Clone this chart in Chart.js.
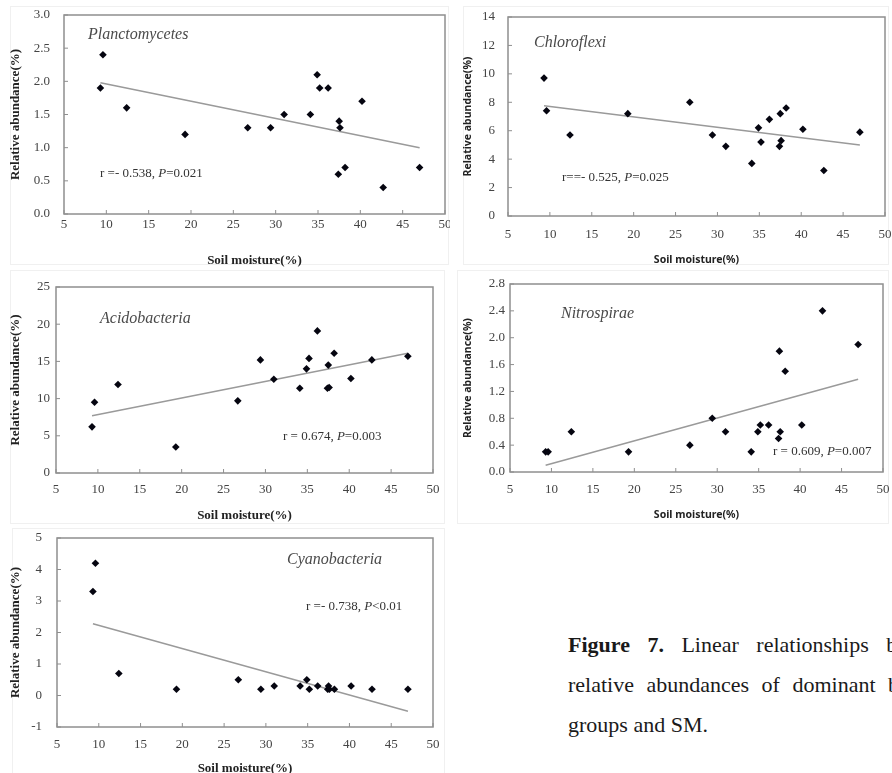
<!DOCTYPE html>
<html>
<head>
<meta charset="utf-8">
<script src="https://cdn.jsdelivr.net/npm/chart.js@4.4.0/dist/chart.umd.min.js"></script>
<style>
  body { margin: 0; width: 892px; height: 773px; overflow: hidden; background: #fff; position: relative; font-family: "Liberation Serif", serif; }
  .frame { position: absolute; border: 1px solid #f0f0f0; }
  canvas { position: absolute; }
  .cap { position: absolute; left: 568px; font-size: 22px; white-space: nowrap; color: #1a1a1a; }
</style>
</head>
<body>
<div class="frame" style="left:10px;top:6px;width:437px;height:257px"></div>
<div class="frame" style="left:463px;top:6px;width:424px;height:257px"></div>
<div class="frame" style="left:10px;top:270px;width:433px;height:252px"></div>
<div class="frame" style="left:457px;top:270px;width:430px;height:252px"></div>
<div class="frame" style="left:12px;top:528px;width:431px;height:250px"></div>

<canvas id="p1" width="450" height="268" style="left:0;top:0"></canvas>
<canvas id="p2" width="437" height="268" style="left:455px;top:0"></canvas>
<canvas id="p3" width="450" height="255" style="left:0;top:268px"></canvas>
<canvas id="p4" width="437" height="255" style="left:455px;top:268px"></canvas>
<canvas id="p5" width="450" height="253" style="left:0;top:523px"></canvas>

<div class="cap" style="top:632px;word-spacing:12px"><b>Figure 7.</b> Linear relationships between the</div>
<div class="cap" style="top:672px;word-spacing:7px">relative abundances of dominant bacterial</div>
<div class="cap" style="top:712px">groups and SM.</div>

<script>
// soil moisture (%) of the 18 sites, shared by all panels
const moisture = [9.3, 9.6, 12.4, 19.3, 26.7, 29.4, 31.0, 34.1, 34.9, 35.2, 36.2, 37.4, 37.5, 37.6, 38.2, 40.2, 42.7, 47.0];

// relative abundance (%) per group
const planctomycetes = [1.9, 2.4, 1.6, 1.2, 1.3, 1.3, 1.5, 1.5, 2.1, 1.9, 1.9, 0.6, 1.4, 1.3, 0.7, 1.7, 0.4, 0.7];
const chloroflexi = [9.7, 7.4, 5.7, 7.2, 8.0, 5.7, 4.9, 3.7, 6.2, 5.2, 6.8, 4.9, 7.2, 5.3, 7.6, 6.1, 3.2, 5.9];
const acidobacteria = [6.2, 9.5, 11.9, 3.5, 9.7, 15.2, 12.6, 11.4, 14.0, 15.4, 19.1, 11.4, 14.5, 11.5, 16.1, 12.7, 15.2, 15.7];
const nitrospirae = [0.3, 0.3, 0.6, 0.3, 0.4, 0.8, 0.6, 0.3, 0.6, 0.7, 0.7, 0.5, 1.8, 0.6, 1.5, 0.7, 2.4, 1.9];
const cyanobacteria = [3.3, 4.2, 0.7, 0.2, 0.5, 0.2, 0.3, 0.3, 0.5, 0.2, 0.3, 0.2, 0.3, 0.2, 0.2, 0.3, 0.2, 0.2];

// fitted lines (end points)
const trendX = [9.3, 47.0];
const planctomycetesFit = [1.98, 1.0];
const chloroflexiFit = [7.75, 5.0];
const acidobacteriaFit = [7.7, 16.1];
const nitrospiraeFit = [0.1, 1.38];
const cyanobacteriaFit = [2.28, -0.5];

// axis ticks
const xTicks = { min: 5, max: 50, step: 5 };

const serif = '"Liberation Serif", "Times New Roman", serif';
const sans = '"Noto Sans", "Open Sans", sans-serif';

// frame, inward ticks, group name and r / P note
const panelDecor = {
  id: 'panelDecor',
  afterDraw(chart) {
    const o = chart.options.plugins.panelDecor;
    const ctx = chart.ctx;
    const a = chart.chartArea;
    const xs = chart.scales.x, ys = chart.scales.y;
    ctx.save();
    ctx.strokeStyle = '#8f8f8f';
    ctx.lineWidth = 1.5;
    ctx.strokeRect(a.left, a.top, a.right - a.left, a.bottom - a.top);
    ctx.lineWidth = 1;
    ctx.beginPath();
    xs.ticks.forEach(t => {
      const px = xs.getPixelForValue(t.value);
      ctx.moveTo(px, a.bottom);
      ctx.lineTo(px, a.bottom - 4);
    });
    ys.ticks.forEach(t => {
      const py = ys.getPixelForValue(t.value);
      ctx.moveTo(a.left, py);
      ctx.lineTo(a.left + 4, py);
    });
    ctx.stroke();

    ctx.textBaseline = 'middle';
    ctx.fillStyle = '#4a4a4a';
    ctx.font = 'italic 16px ' + serif;
    ctx.fillText(o.name, o.nameX, o.nameY);

    ctx.fillStyle = '#333';
    let x = o.statX;
    o.stat.forEach((seg, i) => {
      ctx.font = (i === 1 ? 'italic ' : '') + '13px ' + serif;
      ctx.fillText(seg, x, o.statY);
      x += ctx.measureText(seg).width;
    });
    ctx.restore();
  }
};

function makePanel(id, p) {
  const canvas = document.getElementById(id);
  const W = canvas.width, H = canvas.height;
  const titleFont = p.sansTitles
    ? { family: sans, size: 10.5, weight: 'bold' }
    : { family: serif, size: 13, weight: 'bold' };

  new Chart(canvas, {
    type: 'scatter',
    data: {
      datasets: [
        {
          data: moisture.map((x, i) => ({ x: x, y: p.values[i] })),
          pointStyle: 'rectRot',
          pointRadius: 3.8,
          pointBackgroundColor: '#050510',
          pointBorderWidth: 0,
          showLine: false
        },
        {
          data: trendX.map((x, i) => ({ x: x, y: p.fit[i] })),
          showLine: true,
          pointRadius: 0,
          borderColor: '#9a9a9a',
          borderWidth: 1.5
        }
      ]
    },
    options: {
      responsive: false,
      animation: false,
      events: [],
      layout: { padding: { left: 0, top: p.area.top, right: W - p.area.right, bottom: 0 } },
      plugins: {
        legend: { display: false },
        tooltip: { enabled: false },
        panelDecor: p.decor
      },
      scales: {
        x: {
          type: 'linear',
          min: xTicks.min,
          max: xTicks.max,
          grid: { display: false, drawTicks: false },
          border: { display: false },
          ticks: { stepSize: xTicks.step, padding: p.xPad, color: '#444', font: { family: serif, size: 13 } },
          title: { display: true, text: 'Soil moisture(%)', color: '#222', font: titleFont, padding: { top: 0, bottom: p.xTitlePad } },
          afterFit: s => { s.height = H - p.area.bottom; s.paddingLeft = 0; s.paddingRight = 0; }
        },
        y: {
          type: 'linear',
          min: p.yMin,
          max: p.yMax,
          grid: { display: false, drawTicks: false },
          border: { display: false },
          ticks: {
            stepSize: p.yStep,
            padding: p.yPad,
            color: '#444',
            font: { family: serif, size: 13 },
            callback: v => v.toFixed(p.yDec)
          },
          title: { display: true, text: 'Relative abundance(%)', color: '#222', font: titleFont, padding: { top: p.yTitlePad, bottom: 0 } },
          afterFit: s => { s.width = p.area.left; s.paddingTop = 0; s.paddingBottom = 0; }
        }
      }
    },
    plugins: [panelDecor]
  });
}

makePanel('p1', {
  values: planctomycetes, fit: planctomycetesFit,
  area: { left: 64, right: 445, top: 15, bottom: 214 },
  yMin: 0, yMax: 3, yStep: 0.5, yDec: 1,
  xPad: 3, yPad: 14, xTitlePad: 0, yTitlePad: 8,
  decor: { name: 'Planctomycetes', nameX: 88, nameY: 35, stat: ['r =- 0.538, ', 'P', '=0.021'], statX: 100, statY: 174 }
});

makePanel('p2', {
  values: chloroflexi, fit: chloroflexiFit, sansTitles: true,
  area: { left: 53, right: 430, top: 17, bottom: 216 },
  yMin: 0, yMax: 14, yStep: 2, yDec: 0,
  xPad: 11, yPad: 13, xTitlePad: 2, yTitlePad: 7,
  decor: { name: 'Chloroflexi', nameX: 79, nameY: 43, stat: ['r==- 0.525, ', 'P', '=0.025'], statX: 107, statY: 178 }
});

makePanel('p3', {
  values: acidobacteria, fit: acidobacteriaFit,
  area: { left: 56, right: 433, top: 19, bottom: 205 },
  yMin: 0, yMax: 25, yStep: 5, yDec: 0,
  xPad: 9, yPad: 6, xTitlePad: 0, yTitlePad: 8,
  decor: { name: 'Acidobacteria', nameX: 100, nameY: 51, stat: ['r = 0.674, ', 'P', '=0.003'], statX: 283, statY: 169 }
});

makePanel('p4', {
  values: nitrospirae, fit: nitrospiraeFit, sansTitles: true,
  area: { left: 55, right: 428, top: 16, bottom: 204 },
  yMin: 0, yMax: 2.8, yStep: 0.4, yDec: 1,
  xPad: 10, yPad: 5, xTitlePad: 2, yTitlePad: 7,
  decor: { name: 'Nitrospirae', nameX: 106, nameY: 46, stat: ['r = 0.609, ', 'P', '=0.007'], statX: 318, statY: 184 }
});

makePanel('p5', {
  values: cyanobacteria, fit: cyanobacteriaFit,
  area: { left: 57, right: 433, top: 15, bottom: 204 },
  yMin: -1, yMax: 5, yStep: 1, yDec: 0,
  xPad: 10, yPad: 15, xTitlePad: 0, yTitlePad: 8,
  decor: { name: 'Cyanobacteria', nameX: 287, nameY: 37, stat: ['r =- 0.738, ', 'P', '<0.01'], statX: 306, statY: 84 }
});
</script>
</body>
</html>
